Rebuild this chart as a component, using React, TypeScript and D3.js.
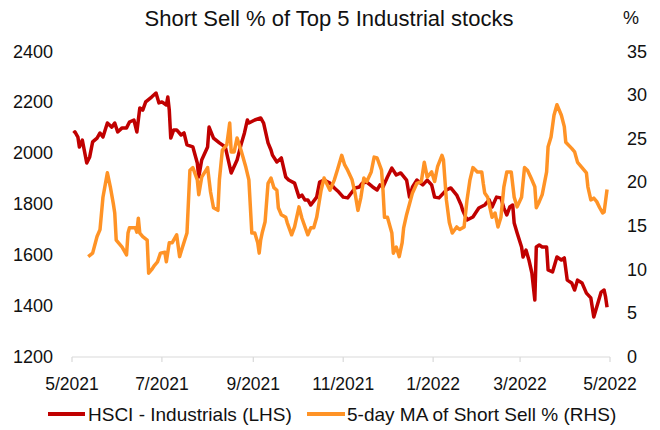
import * as d3 from "d3";

// HSCI - Industrials index level (LHS)
const hsciSeries: [string, number][] = [
  ["2021-05-02", 2079], ["2021-05-03", 2084], ["2021-05-05", 2064], ["2021-05-06", 2025], ["2021-05-08", 2052],
  ["2021-05-11", 1962], ["2021-05-13", 1986], ["2021-05-15", 2045], ["2021-05-18", 2060], ["2021-05-20", 2080],
  ["2021-05-22", 2064], ["2021-05-25", 2119], ["2021-05-28", 2103], ["2021-05-30", 2119], ["2021-06-01", 2084],
  ["2021-06-04", 2100], ["2021-06-07", 2100], ["2021-06-09", 2123], ["2021-06-12", 2131], ["2021-06-14", 2084],
  ["2021-06-16", 2178], ["2021-06-18", 2170], ["2021-06-20", 2202], ["2021-06-24", 2221], ["2021-06-27", 2237],
  ["2021-06-29", 2198], ["2021-07-01", 2202], ["2021-07-04", 2190], ["2021-07-05", 2221], ["2021-07-06", 2170],
  ["2021-07-07", 2060], ["2021-07-09", 2092], ["2021-07-11", 2092], ["2021-07-14", 2072], ["2021-07-16", 2080],
  ["2021-07-18", 2033], ["2021-07-22", 2025], ["2021-07-25", 1962], ["2021-07-26", 1907], ["2021-07-28", 1974],
  ["2021-08-01", 2025], ["2021-08-02", 2103], ["2021-08-05", 2060], ["2021-08-09", 2041], ["2021-08-13", 2025],
  ["2021-08-15", 1974], ["2021-08-17", 1923], ["2021-08-21", 1974], ["2021-08-24", 2041], ["2021-08-26", 2080],
  ["2021-08-28", 2131], ["2021-08-29", 2119], ["2021-09-02", 2131], ["2021-09-06", 2139], ["2021-09-08", 2119],
  ["2021-09-11", 2041], ["2021-09-13", 2013], ["2021-09-14", 1993], ["2021-09-17", 1966], ["2021-09-20", 1982],
  ["2021-09-23", 1907], ["2021-09-25", 1895], ["2021-09-29", 1883], ["2021-10-02", 1828], ["2021-10-04", 1836],
  ["2021-10-06", 1817], ["2021-10-08", 1817], ["2021-10-10", 1797], ["2021-10-14", 1828], ["2021-10-16", 1887],
  ["2021-10-19", 1895], ["2021-10-23", 1883], ["2021-10-26", 1864], ["2021-10-29", 1848], ["2021-11-01", 1828],
  ["2021-11-04", 1825], ["2021-11-07", 1848], ["2021-11-09", 1864], ["2021-11-12", 1868], ["2021-11-14", 1883],
  ["2021-11-17", 1887], ["2021-11-21", 1868], ["2021-11-24", 1856], ["2021-11-26", 1876], ["2021-11-28", 1868],
  ["2021-12-01", 1907], ["2021-12-04", 1942], ["2021-12-07", 1915], ["2021-12-10", 1923], ["2021-12-14", 1895],
  ["2021-12-16", 1828], ["2021-12-18", 1868], ["2021-12-21", 1895], ["2021-12-25", 1876], ["2021-12-28", 1895],
  ["2021-12-31", 1876], ["2022-01-02", 1828], ["2022-01-05", 1825], ["2022-01-10", 1856], ["2022-01-13", 1864],
  ["2022-01-17", 1836], ["2022-01-20", 1797], ["2022-01-21", 1777], ["2022-01-24", 1738], ["2022-01-28", 1750],
  ["2022-02-01", 1785], ["2022-02-05", 1797], ["2022-02-08", 1817], ["2022-02-10", 1789], ["2022-02-13", 1828],
  ["2022-02-16", 1825], ["2022-02-18", 1785], ["2022-02-20", 1758], ["2022-02-22", 1789], ["2022-02-24", 1797],
  ["2022-02-25", 1726], ["2022-02-27", 1687], ["2022-03-02", 1632], ["2022-03-03", 1593], ["2022-03-05", 1620],
  ["2022-03-07", 1581], ["2022-03-09", 1530], ["2022-03-11", 1424], ["2022-03-12", 1632], ["2022-03-14", 1640],
  ["2022-03-16", 1632], ["2022-03-19", 1632], ["2022-03-20", 1542], ["2022-03-23", 1534], ["2022-03-26", 1593],
  ["2022-03-29", 1581], ["2022-03-31", 1589], ["2022-04-02", 1502], ["2022-04-05", 1491], ["2022-04-07", 1463],
  ["2022-04-09", 1502], ["2022-04-12", 1491], ["2022-04-15", 1451], ["2022-04-18", 1432], ["2022-04-20", 1357],
  ["2022-04-22", 1396], ["2022-04-25", 1455], ["2022-04-27", 1463], ["2022-04-28", 1436], ["2022-04-29", 1395],
];

// 5-day MA of short sell % (RHS)
const shortSellSeries: [string, number][] = [
  ["2021-05-12", 11.5], ["2021-05-15", 11.9], ["2021-05-18", 13.8], ["2021-05-20", 14.6], ["2021-05-22", 18.3],
  ["2021-05-25", 21.1], ["2021-05-27", 19.5], ["2021-05-29", 17.6], ["2021-05-30", 16.5], ["2021-05-31", 13.4],
  ["2021-06-04", 12.6], ["2021-06-07", 11.7], ["2021-06-08", 14.2], ["2021-06-09", 14.8], ["2021-06-13", 14.8],
  ["2021-06-14", 14.3], ["2021-06-15", 15.9], ["2021-06-16", 14.2], ["2021-06-18", 13.8], ["2021-06-21", 13.4],
  ["2021-06-22", 9.6], ["2021-06-24", 10.0], ["2021-06-26", 10.5], ["2021-06-28", 10.9], ["2021-06-30", 11.9],
  ["2021-07-03", 12.0], ["2021-07-04", 10.9], ["2021-07-06", 13.1], ["2021-07-08", 13.1], ["2021-07-11", 14.0],
  ["2021-07-13", 11.5], ["2021-07-15", 12.6], ["2021-07-18", 14.2], ["2021-07-20", 21.4], ["2021-07-22", 21.7],
  ["2021-07-25", 20.3], ["2021-07-26", 18.6], ["2021-07-28", 20.6], ["2021-08-01", 21.7], ["2021-08-03", 18.9],
  ["2021-08-05", 17.1], ["2021-08-08", 16.8], ["2021-08-09", 20.3], ["2021-08-11", 23.7], ["2021-08-14", 24.3],
  ["2021-08-16", 26.8], ["2021-08-17", 23.5], ["2021-08-19", 23.5], ["2021-08-21", 25.1], ["2021-08-24", 23.5],
  ["2021-08-27", 21.7], ["2021-08-29", 20.3], ["2021-08-31", 14.2], ["2021-09-02", 14.2], ["2021-09-04", 13.1],
  ["2021-09-05", 11.9], ["2021-09-06", 13.4], ["2021-09-07", 14.2], ["2021-09-09", 15.5], ["2021-09-11", 19.9],
  ["2021-09-13", 20.5], ["2021-09-15", 19.4], ["2021-09-17", 19.1], ["2021-09-18", 17.1], ["2021-09-20", 16.3],
  ["2021-09-23", 16.0], ["2021-09-24", 15.4], ["2021-09-27", 14.0], ["2021-09-29", 14.9], ["2021-10-02", 17.2],
  ["2021-10-04", 15.9], ["2021-10-08", 14.0], ["2021-10-10", 14.8], ["2021-10-12", 14.8], ["2021-10-14", 16.0],
  ["2021-10-17", 19.1], ["2021-10-19", 20.5], ["2021-10-23", 19.1], ["2021-10-26", 20.3], ["2021-10-28", 21.4],
  ["2021-10-31", 23.1], ["2021-11-02", 22.0], ["2021-11-04", 21.4], ["2021-11-07", 20.3], ["2021-11-09", 18.8],
  ["2021-11-11", 16.8], ["2021-11-13", 18.3], ["2021-11-15", 20.5], ["2021-11-17", 20.1], ["2021-11-20", 21.2],
  ["2021-11-22", 22.9], ["2021-11-24", 22.8], ["2021-11-27", 21.4], ["2021-11-28", 19.1], ["2021-11-29", 16.0],
  ["2021-12-01", 16.0], ["2021-12-04", 14.2], ["2021-12-05", 11.9], ["2021-12-07", 12.6], ["2021-12-09", 11.5],
  ["2021-12-11", 13.1], ["2021-12-12", 14.8], ["2021-12-14", 16.3], ["2021-12-18", 18.8], ["2021-12-21", 19.9],
  ["2021-12-24", 20.1], ["2021-12-26", 22.3], ["2021-12-28", 20.6], ["2021-12-31", 21.2], ["2022-01-02", 20.1],
  ["2022-01-04", 21.8], ["2022-01-07", 23.1], ["2022-01-08", 22.6], ["2022-01-10", 18.0], ["2022-01-12", 15.4],
  ["2022-01-14", 14.2], ["2022-01-17", 14.9], ["2022-01-19", 14.6], ["2022-01-22", 14.9], ["2022-01-24", 18.0],
  ["2022-01-26", 20.3], ["2022-01-28", 21.7], ["2022-01-31", 21.2], ["2022-02-03", 21.2], ["2022-02-04", 19.9],
  ["2022-02-05", 18.8], ["2022-02-07", 18.3], ["2022-02-10", 16.0], ["2022-02-12", 16.5], ["2022-02-14", 14.9],
  ["2022-02-16", 16.0], ["2022-02-18", 19.5], ["2022-02-20", 21.2], ["2022-02-23", 21.2], ["2022-02-25", 18.3],
  ["2022-02-27", 17.2], ["2022-03-02", 18.3], ["2022-03-04", 21.7], ["2022-03-06", 21.4], ["2022-03-09", 20.3],
  ["2022-03-11", 19.5], ["2022-03-12", 17.1], ["2022-03-14", 17.8], ["2022-03-16", 18.6], ["2022-03-19", 21.2],
  ["2022-03-20", 24.1], ["2022-03-22", 25.2], ["2022-03-24", 27.7], ["2022-03-26", 28.9], ["2022-03-29", 27.7],
  ["2022-03-31", 26.4], ["2022-04-01", 24.6], ["2022-04-05", 23.9], ["2022-04-07", 23.5], ["2022-04-09", 22.3],
  ["2022-04-12", 21.7], ["2022-04-15", 21.1], ["2022-04-16", 19.5], ["2022-04-18", 18.0], ["2022-04-20", 18.2],
  ["2022-04-22", 17.8], ["2022-04-24", 17.1], ["2022-04-26", 16.5], ["2022-04-27", 16.6], ["2022-04-29", 19.2],
];

const leftTicks = [1200, 1400, 1600, 1800, 2000, 2200, 2400];
const rightTicks = [0, 5, 10, 15, 20, 25, 30, 35];
const monthTicks = ["2021-05-01", "2021-07-01", "2021-09-01", "2021-11-01", "2022-01-01", "2022-03-01", "2022-05-01"];

const title = "Short Sell % of Top 5 Industrial  stocks";
const legendItems = [
  { label: "HSCI - Industrials (LHS)", color: "#C00000" },
  { label: "5-day MA of Short Sell % (RHS)", color: "#FF9326" },
];

const parse = d3.timeParse("%Y-%m-%d");
const font = "'Liberation Sans', Arial, sans-serif";

export default function App() {
  const width = 660;
  const height = 430;
  const margin = { top: 51.5, right: 50, bottom: 73, left: 72 };

  const x = d3
    .scaleTime()
    .domain([parse("2021-05-01")!, parse("2022-05-01")!])
    .range([margin.left, width - margin.right]);
  const yLeft = d3.scaleLinear().domain([1200, 2400]).range([height - margin.bottom, margin.top]);
  const yRight = d3.scaleLinear().domain([0, 35]).range([height - margin.bottom, margin.top]);

  const redLine = d3
    .line<[string, number]>()
    .x((d) => x(parse(d[0])!))
    .y((d) => yLeft(d[1]));
  const orangeLine = d3
    .line<[string, number]>()
    .x((d) => x(parse(d[0])!))
    .y((d) => yRight(d[1]));

  const axisY = height - margin.bottom;
  const fmt = d3.timeFormat("%-m/%Y");

  return (
    <div style={{ position: "fixed", left: 0, top: 0 }}>
      <svg width={width} height={height} style={{ display: "block", fontFamily: font }}>
        <rect width={width} height={height} fill="#fff" />
        <text x={329} y={18} textAnchor="middle" dominantBaseline="central" fontSize={22} fill="#111">
          {title}
        </text>
        <text x={631} y={18} textAnchor="middle" dominantBaseline="central" fontSize={18} fill="#111">
          %
        </text>

        {/* left axis labels */}
        {leftTicks.map((t) => (
          <text key={"l" + t} x={53} y={yLeft(t)} textAnchor="end" dominantBaseline="central" fontSize={18} fill="#111">
            {t}
          </text>
        ))}
        {/* right axis labels */}
        {rightTicks.map((t) => (
          <text key={"r" + t} x={627} y={yRight(t)} textAnchor="start" dominantBaseline="central" fontSize={18} fill="#111">
            {t}
          </text>
        ))}

        {/* x axis */}
        <line x1={x.range()[0]} x2={x.range()[1]} y1={axisY} y2={axisY} stroke="#D9D9D9" strokeWidth={1.2} />
        {monthTicks.map((m) => {
          const px = x(parse(m)!);
          return (
            <g key={m}>
              <line x1={px} x2={px} y1={axisY} y2={axisY + 5} stroke="#D9D9D9" strokeWidth={1.2} />
              <text x={px} y={axisY + 27} textAnchor="middle" dominantBaseline="central" fontSize={17.5} fill="#111">
                {fmt(parse(m)!)}
              </text>
            </g>
          );
        })}

        <path d={redLine(hsciSeries) ?? ""} fill="none" stroke={legendItems[0].color} strokeWidth={3.5} strokeLinejoin="round" />
        <path d={orangeLine(shortSellSeries) ?? ""} fill="none" stroke={legendItems[1].color} strokeWidth={3.5} strokeLinejoin="round" />

        {/* legend */}
        <g>
          <line x1={48} x2={85} y1={414} y2={414} stroke={legendItems[0].color} strokeWidth={4} />
          <text x={88} y={414} dominantBaseline="central" fontSize={19} fill="#111">
            {legendItems[0].label}
          </text>
          <line x1={307} x2={345} y1={414} y2={414} stroke={legendItems[1].color} strokeWidth={4} />
          <text x={347} y={414} dominantBaseline="central" fontSize={19} fill="#111">
            {legendItems[1].label}
          </text>
        </g>
      </svg>
    </div>
  );
}
